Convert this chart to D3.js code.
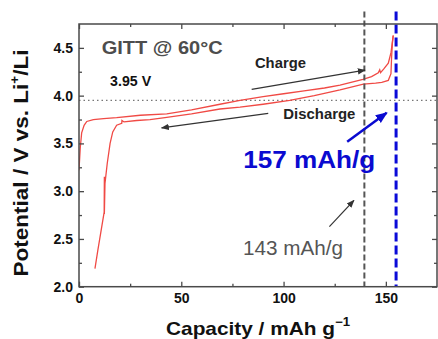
<!DOCTYPE html>
<html>
<head>
<meta charset="utf-8">
<script src="https://cdn.jsdelivr.net/npm/d3@7"></script>
<style>
  body { margin: 0; background: #fff; }
  svg { display: block; font-family: "Liberation Sans", Arial, sans-serif; }
</style>
</head>
<body>
<svg id="chart" width="438" height="339"></svg>
<script>
// GITT charge / discharge at 60 C, capacity (mAh/g) vs potential (V)
const chargeCap = [0, 0.6, 1.3, 2.5, 3.8, 7, 12, 18.4, 30, 42.9, 55, 68.9, 78.7, 90, 100, 110, 120, 127.6, 138.8, 143, 146.3, 147, 147.4, 149, 151.2, 152.5, 153.6];
const chargeV = [3.22, 3.45, 3.61, 3.69, 3.73, 3.75, 3.76, 3.77, 3.795, 3.81, 3.85, 3.91, 3.95, 3.99, 4.02, 4.05, 4.08, 4.11, 4.17, 4.20, 4.24, 4.27, 4.24, 4.28, 4.34, 4.45, 4.63];

const dischargeCap = [153.6, 153.2, 152.8, 152.5, 151.2, 148, 145, 139, 127.6, 115, 103, 90, 78.7, 68.9, 55, 42, 34.7, 28.2, 22, 21, 20.9, 18.4, 16.5, 15.2, 13.8, 12.7, 12.4, 12.4, 12.3, 10.6, 9.2, 7.8];
const dischargeV = [4.63, 4.55, 4.40, 4.23, 4.16, 4.14, 4.13, 4.12, 4.06, 4.00, 3.95, 3.91, 3.88, 3.86, 3.81, 3.77, 3.75, 3.74, 3.725, 3.74, 3.71, 3.69, 3.62, 3.50, 3.29, 3.08, 2.76, 3.15, 2.78, 2.56, 2.38, 2.19];

const xTicks = [0, 50, 100, 150];
const xMinor = [25, 75, 125];
const yTicks = [2.0, 2.5, 3.0, 3.5, 4.0, 4.5];
const yMinor = [2.25, 2.75, 3.25, 3.75, 4.25];

const refVoltage = 3.95;
const capLines = [139.5, 155];   // 143 mAh/g marker, 157 mAh/g marker
const capLineTop = 4.88;

const svg = d3.select('#chart');
const margin = { top: 24, right: 1, bottom: 52.3, left: 79 };
const width = 438 - margin.left - margin.right;
const height = 339 - margin.top - margin.bottom;

const x = d3.scaleLinear().domain([0, 175]).range([0, width]);
const y = d3.scaleLinear().domain([2.0, 4.75]).range([height, 0]);

const defs = svg.append('defs');
function marker(id, color, size) {
  defs.append('marker')
    .attr('id', id)
    .attr('viewBox', '0 0 10 10')
    .attr('refX', 9).attr('refY', 5)
    .attr('markerWidth', size).attr('markerHeight', size)
    .attr('markerUnits', 'userSpaceOnUse')
    .attr('orient', 'auto')
    .append('path').attr('d', 'M0,1 L10,5 L0,9 Z').attr('fill', color);
}
marker('arrGray', '#333', 8);
marker('arrBlue', '#0a0ad0', 12);

defs.append('clipPath').attr('id', 'plotClip')
  .append('rect').attr('width', width).attr('height', height);

const g = svg.append('g').attr('transform', `translate(${margin.left},${margin.top})`);

// reference voltage
g.append('line')
  .attr('x1', 0).attr('x2', width)
  .attr('y1', y(refVoltage)).attr('y2', y(refVoltage))
  .attr('stroke', '#777').attr('stroke-width', 1.2)
  .attr('stroke-dasharray', '1.5,3');

// curves
const line = d3.line().x(d => x(d[0])).y(d => y(d[1]));
const curves = g.append('g').attr('clip-path', 'url(#plotClip)');
curves.append('path')
  .datum(d3.zip(chargeCap, chargeV))
  .attr('d', line).attr('fill', 'none')
  .attr('stroke', '#f04a45').attr('stroke-width', 1.3);
curves.append('path')
  .datum(d3.zip(dischargeCap, dischargeV))
  .attr('d', line).attr('fill', 'none')
  .attr('stroke', '#f04a45').attr('stroke-width', 1.3);

// capacity markers
g.append('line')
  .attr('x1', x(capLines[0])).attr('x2', x(capLines[0]))
  .attr('y1', y(capLineTop)).attr('y2', y(2.0))
  .attr('stroke', '#555').attr('stroke-width', 2)
  .attr('stroke-dasharray', '6,3');
g.append('line')
  .attr('x1', x(capLines[1])).attr('x2', x(capLines[1]))
  .attr('y1', y(capLineTop)).attr('y2', y(2.0))
  .attr('stroke', '#0a0ad8').attr('stroke-width', 3)
  .attr('stroke-dasharray', '9,4');

// frame
g.append('rect')
  .attr('width', width).attr('height', height)
  .attr('fill', 'none').attr('stroke', '#4a4a4a').attr('stroke-width', 1.5);

const fx = d3.format('d'), fy = d3.format('.1f');
function drawTicks(sel, makeAxis, vals, size, showLabels, fmt) {
  const s = sel.append('g').call(
    makeAxis().tickValues(vals).tickSize(-size).tickPadding(6)
      .tickFormat(showLabels ? fmt : () => '')
  );
  s.select('.domain').remove();
  s.selectAll('line').attr('stroke', '#4a4a4a').attr('stroke-width', 1.3);
  s.selectAll('text')
    .attr('fill', '#111').attr('font-size', 14).attr('font-weight', 'bold')
    .attr('font-family', '"Liberation Sans", Arial, sans-serif');
}
const axes = [
  [g.append('g').attr('transform', `translate(0,${height})`), () => d3.axisBottom(x), xTicks, xMinor, true, fx],
  [g.append('g'), () => d3.axisTop(x), xTicks, xMinor, false, fx],
  [g.append('g'), () => d3.axisLeft(y), yTicks, yMinor, true, fy],
  [g.append('g').attr('transform', `translate(${width},0)`), () => d3.axisRight(y), yTicks, yMinor, false, fy]
];
axes.forEach(([sel, mk, major, minor, lab, fmt]) => {
  drawTicks(sel, mk, major, 5, lab, fmt);
  drawTicks(sel, mk, minor, 3, false, fmt);
});

// arrows
const arrows = [
  { from: [84.4, 4.065], to: [139.8, 4.267], color: '#333', w: 1.2, m: 'arrGray' },
  { from: [92.5, 3.814], to: [40.4, 3.663], color: '#333', w: 1.2, m: 'arrGray' },
  { from: [131.1, 3.517], to: [150.4, 3.82], color: '#0a0ad0', w: 2.5, m: 'arrBlue' },
  { from: [122.4, 2.628], to: [134.4, 2.904], color: '#333', w: 1.2, m: 'arrGray' }
];
arrows.forEach(a => {
  g.append('line')
    .attr('x1', x(a.from[0])).attr('y1', y(a.from[1]))
    .attr('x2', x(a.to[0])).attr('y2', y(a.to[1]))
    .attr('stroke', a.color).attr('stroke-width', a.w)
    .attr('marker-end', `url(#${a.m})`);
});

// annotations
const notes = [
  { t: 'GITT @ 60°C', at: [11.1, 4.44], size: 18, len: 121, color: '#4d4d4d', bold: true },
  { t: '3.95 V', at: [15.2, 4.10], size: 14, len: 41, color: '#111', bold: true },
  { t: 'Charge', at: [86.0, 4.285], size: 15, len: 51, color: '#222', bold: true },
  { t: 'Discharge', at: [99.9, 3.754], size: 15, len: 72, color: '#222', bold: true },
  { t: '157 mAh/g', at: [80.3, 3.24], size: 24, len: 132, color: '#0a0ad0', bold: true },
  { t: '143 mAh/g', at: [80.2, 2.33], size: 20, len: 100, color: '#555', bold: false }
];
notes.forEach(n => {
  g.append('text')
    .attr('x', x(n.at[0])).attr('y', y(n.at[1]))
    .attr('font-size', n.size)
    .attr('font-weight', n.bold ? 'bold' : 'normal')
    .attr('fill', n.color)
    .attr('textLength', n.len).attr('lengthAdjust', 'spacingAndGlyphs')
    .text(n.t);
});

// axis titles
const xt = svg.append('text')
  .attr('x', 258).attr('y', 335)
  .attr('text-anchor', 'middle')
  .attr('font-size', 19).attr('font-weight', 'bold').attr('fill', '#111')
  .attr('textLength', 184).attr('lengthAdjust', 'spacingAndGlyphs');
xt.append('tspan').text('Capacity / mAh g');
xt.append('tspan').attr('font-size', 12).attr('dy', -9).text('\u22121');

const yt = svg.append('text')
  .attr('transform', 'translate(28,163) rotate(-90)')
  .attr('text-anchor', 'middle')
  .attr('font-size', 20).attr('font-weight', 'bold').attr('fill', '#111')
  .attr('textLength', 227).attr('lengthAdjust', 'spacingAndGlyphs');
yt.append('tspan').text('Potential / V vs. Li');
yt.append('tspan').attr('font-size', 12).attr('dy', -9).text('+');
yt.append('tspan').attr('dy', 9).text('/Li');
</script>
</body>
</html>
